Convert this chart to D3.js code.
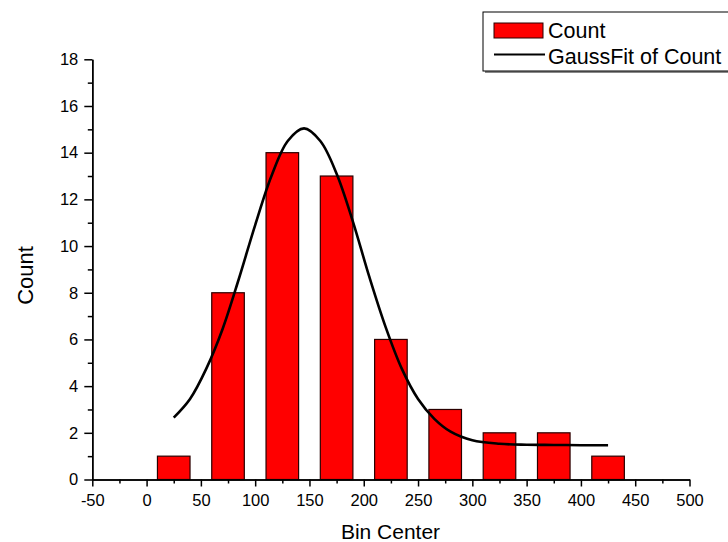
<!DOCTYPE html>
<html>
<head>
<meta charset="utf-8" />
<title>Count with GaussFit</title>
<script src="https://d3js.org/d3.v7.min.js"></script>
<style>
html, body { margin: 0; padding: 0; background: #fff; }
svg { display: block; font-family: "Liberation Sans", Arial, sans-serif; }
.axis path, .axis line { stroke: #000; stroke-width: 1.5; }
.axis text { font-family: "Liberation Sans", Arial, sans-serif; font-size: 16.5px; fill: #000; }
</style>
</head>
<body>
<script>
// histogram bins (bin center, count)
const binCenters = [25, 75, 125, 175, 225, 275, 325, 375, 425];
const counts = [1, 8, 14, 13, 6, 3, 2, 2, 1];
const binWidth = 30;

// GaussFit of Count
const fitX = [25, 40, 55, 70, 85, 100, 115, 130, 145, 160, 175, 190, 205, 220, 235, 250, 265, 280, 300, 325, 350, 375, 400, 425];
const fitY = [2.65, 3.45, 4.75, 6.45, 8.6, 10.9, 13.0, 14.5, 15.04, 14.5, 13.1, 11.05, 8.7, 6.55, 4.75, 3.45, 2.6, 2.05, 1.68, 1.53, 1.49, 1.48, 1.47, 1.47];

const xTicks = [-50, 0, 50, 100, 150, 200, 250, 300, 350, 400, 450, 500];
const xMinor = [-25, 25, 75, 125, 175, 225, 275, 325, 375, 425, 475];
const yTicks = [0, 2, 4, 6, 8, 10, 12, 14, 16, 18];
const yMinor = [1, 3, 5, 7, 9, 11, 13, 15, 17];

const w = 728, h = 542;
const padL = 92.3, padR = 689.5, padT = 59.3, padB = 479.5;

const svg = d3.select('body').append('svg').attr('width', w).attr('height', h);

const x = d3.scaleLinear().domain([-50, 500]).range([padL, padR]);
const y = d3.scaleLinear().domain([0, 18]).range([padB, padT]);

// bars
svg.selectAll('rect.bar')
  .data(binCenters).enter()
  .append('rect')
  .attr('class', 'bar')
  .attr('x', (d) => x(d - binWidth / 2))
  .attr('width', (d) => x(d + binWidth / 2) - x(d - binWidth / 2))
  .attr('y', (d, i) => y(counts[i]))
  .attr('height', (d, i) => y(0) - y(counts[i]))
  .attr('fill', '#ff0000')
  .attr('stroke', '#2a0000')
  .attr('stroke-width', 1.2);

// axes (plain hyphen for negatives, like the original)
const fmt = (d) => String(d);
const xAxis = d3.axisBottom(x).tickValues(xTicks).tickFormat(fmt).tickSize(7).tickPadding(8).tickSizeOuter(0);
const xAxisMinor = d3.axisBottom(x).tickValues(xMinor).tickSize(4).tickFormat('').tickSizeOuter(0);
const yAxis = d3.axisLeft(y).tickValues(yTicks).tickFormat(fmt).tickSize(8).tickPadding(6).tickSizeOuter(0);
const yAxisMinor = d3.axisLeft(y).tickValues(yMinor).tickSize(4.5).tickFormat('').tickSizeOuter(0);

svg.append('g').attr('class', 'axis').attr('transform', 'translate(0,' + padB + ')').call(xAxis);
svg.append('g').attr('class', 'axis').attr('transform', 'translate(0,' + padB + ')').call(xAxisMinor);
svg.append('g').attr('class', 'axis').attr('transform', 'translate(' + padL + ',0)').call(yAxis);
svg.append('g').attr('class', 'axis').attr('transform', 'translate(' + padL + ',0)').call(yAxisMinor);

// fit curve
const fitPts = fitX.map((v, i) => [v, fitY[i]]);
svg.append('path')
  .datum(fitPts)
  .attr('fill', 'none')
  .attr('stroke', '#000')
  .attr('stroke-width', 2.6)
  .attr('d', d3.line().x((d) => x(d[0])).y((d) => y(d[1])).curve(d3.curveCatmullRom));

// axis titles
svg.append('text')
  .attr('x', 390.5).attr('y', 539)
  .attr('text-anchor', 'middle')
  .style('font-size', '21px')
  .text('Bin Center');

svg.append('text')
  .attr('transform', 'translate(33,' + 275.5 + ') rotate(-90)')
  .attr('text-anchor', 'middle')
  .style('font-size', '22px')
  .text('Count');

// legend
const lg = svg.append('g');
lg.append('rect').attr('x', 485).attr('y', 14).attr('width', 260).attr('height', 59).attr('fill', '#888');
lg.append('rect').attr('x', 483).attr('y', 12).attr('width', 260).attr('height', 59)
  .attr('fill', '#fff').attr('stroke', '#000').attr('stroke-width', 1);
lg.append('rect').attr('x', 494).attr('y', 23).attr('width', 49).attr('height', 15)
  .attr('fill', '#ff0000').attr('stroke', '#2a0000').attr('stroke-width', 1);
lg.append('line').attr('x1', 494).attr('x2', 545).attr('y1', 54.5).attr('y2', 54.5)
  .attr('stroke', '#000').attr('stroke-width', 2);
lg.append('text').attr('x', 548).attr('y', 38).style('font-size', '21.5px').text('Count');
lg.append('text').attr('x', 548).attr('y', 64).style('font-size', '21.5px').text('GaussFit of Count');
</script>
</body>
</html>
